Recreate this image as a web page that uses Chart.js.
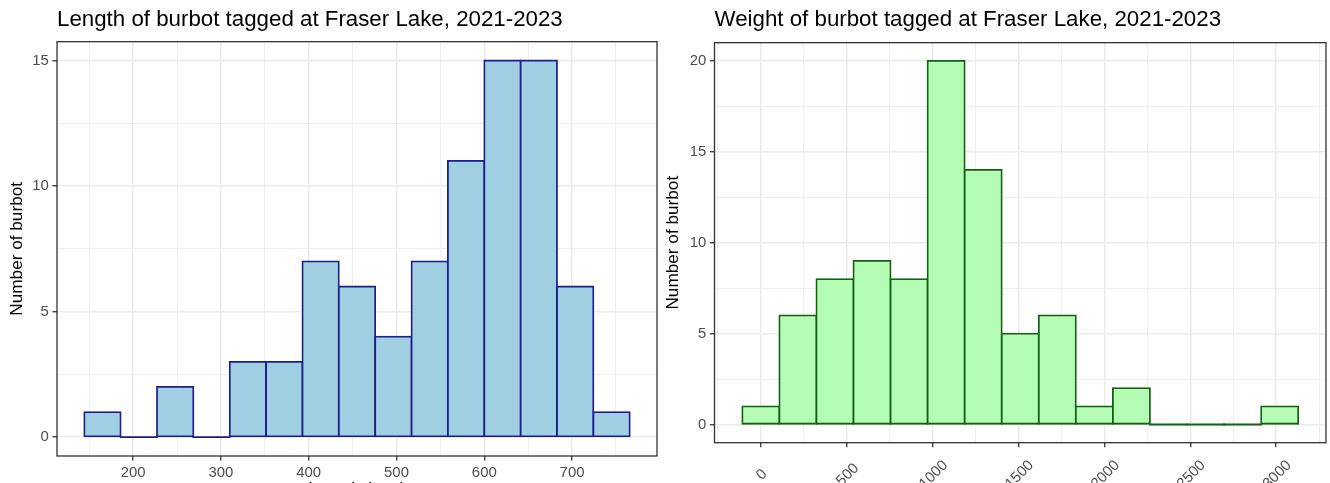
<!DOCTYPE html>
<html>
<head>
<meta charset="utf-8">
<title>Burbot tagged at Fraser Lake</title>
<script src="https://cdn.jsdelivr.net/npm/chart.js@4.4.1/dist/chart.umd.min.js"></script>
<style>
  html, body { margin: 0; padding: 0; background: #fff; width: 1330px; height: 483px; overflow: hidden; }
  .panel { position: absolute; top: 0; width: 665px; height: 500px; }
</style>
</head>
<body>
<div class="panel" style="left:0"><canvas id="length-chart" width="665" height="500"></canvas></div>
<div class="panel" style="left:665px"><canvas id="weight-chart" width="665" height="500"></canvas></div>
<script>
// counts per bin (15 bins each)
var lengthCounts = [1, 0, 2, 0, 3, 3, 7, 6, 4, 7, 11, 15, 15, 6, 1];
var weightCounts = [1, 6, 8, 9, 8, 20, 14, 5, 6, 1, 2, 0, 0, 0, 1];
// centre of first and last bin (smallest / largest fish)
var lengthRange = [165, 745];
var weightRange = [0, 3020];
// labelled ticks
var lengthTicks = [200, 300, 400, 500, 600, 700];
var weightTicks = [0, 500, 1000, 1500, 2000, 2500, 3000];
var lengthCountTicks = [0, 5, 10, 15];
var weightCountTicks = [0, 5, 10, 15, 20];

var FONT = "'Liberation Sans', Arial, Helvetica, sans-serif";
var BAR_LINE = 1.8;

// major ticks plus the minor ones half way between, kept inside the limits
function withMinor(majors, lo, hi) {
    var step = majors[1] - majors[0];
    var out = [];
    for (var v = majors[0] - step * 2; v <= majors[majors.length - 1] + step * 2; v += step / 2) {
        if (v >= lo && v <= hi) out.push(v);
    }
    return out;
}

// box round the panel, like theme_bw
var panelBorder = {
    id: 'panelBorder',
    afterDatasetsDraw: function(chart) {
        var a = chart.chartArea, ctx = chart.ctx;
        ctx.save();
        ctx.strokeStyle = '#333333';
        ctx.lineWidth = 1.3;
        ctx.strokeRect(a.left, a.top, a.right - a.left, a.bottom - a.top);
        ctx.restore();
    }
};

// empty bins still get their outline drawn flat on zero (ggplot does this)
var zeroBins = {
    id: 'zeroBins',
    afterDatasetsDraw: function(chart) {
        var meta = chart.getDatasetMeta(0), ctx = chart.ctx;
        var data = chart.data.datasets[0].data;
        ctx.save();
        ctx.strokeStyle = chart.data.datasets[0].borderColor;
        ctx.lineWidth = BAR_LINE;
        meta.data.forEach(function(bar, i) {
            if (data[i].y !== 0) return;
            var p = bar.getProps(['x', 'base', 'width'], true);
            ctx.beginPath();
            ctx.moveTo(p.x - p.width / 2 - BAR_LINE / 2, p.base);
            ctx.lineTo(p.x + p.width / 2 + BAR_LINE / 2, p.base);
            ctx.stroke();
        });
        ctx.restore();
    }
};

function histogram(canvasId, cfg) {
    var n = cfg.counts.length;
    var w = (cfg.range[1] - cfg.range[0]) / (n - 1);
    var points = cfg.counts.map(function(c, i) {
        return {x: cfg.range[0] + i * w, y: c};
    });
    var lo = cfg.range[0] - w / 2, hi = cfg.range[1] + w / 2;
    var xPad = (hi - lo) * 0.05;
    var yMax = Math.max.apply(null, cfg.counts);
    var yPad = yMax * 0.05;
    var xMin = lo - xPad, xMax = hi + xPad;
    var xGrid = withMinor(cfg.xTicks, xMin, xMax);
    var yGrid = withMinor(cfg.yTicks, -yPad, yMax + yPad);

    function isMajor(c, majors) {
        return c.tick ? majors.indexOf(c.tick.value) >= 0 : true;
    }

    function gridOpts(majors) {
        return {
            offset: false,
            drawTicks: true,
            tickLength: 4.6,
            tickWidth: 1.3,
            color: '#EBEBEB',
            lineWidth: function(c) { return isMajor(c, majors) ? 1.5 : 0.8; },
            tickColor: function(c) { return isMajor(c, majors) ? '#333333' : 'rgba(0,0,0,0)'; }
        };
    }

    // rotated x labels (only used on the weight panel)
    var rotatedTicks = {
        id: 'rotatedTicks',
        afterDraw: function(chart) {
            if (!cfg.rotate) return;
            var scale = chart.scales.x, ctx = chart.ctx;
            ctx.save();
            ctx.fillStyle = '#4D4D4D';
            ctx.font = '14.9px ' + FONT;
            ctx.textAlign = 'center';
            ctx.textBaseline = 'middle';
            cfg.xTicks.forEach(function(v) {
                ctx.save();
                ctx.translate(scale.getPixelForValue(v) + 1, chart.chartArea.bottom + 32);
                ctx.rotate(-Math.PI / 4);
                ctx.fillText(String(v), 0, 0);
                ctx.restore();
            });
            ctx.restore();
        }
    };

    return new Chart(document.getElementById(canvasId), {
        type: 'bar',
        data: {
            datasets: [{
                data: points,
                backgroundColor: cfg.fill,
                borderColor: cfg.line,
                borderWidth: BAR_LINE,
                borderSkipped: false,
                inflateAmount: BAR_LINE / 2,
                barPercentage: 1,
                categoryPercentage: 1
            }]
        },
        options: {
            responsive: false,
            animation: false,
            layout: {padding: {right: cfg.padRight}},
            plugins: {
                legend: {display: false},
                tooltip: {enabled: false},
                title: {
                    display: true,
                    text: cfg.title,
                    align: 'start',
                    fullSize: false,
                    color: '#000',
                    font: {family: FONT, size: 22.3, weight: 'normal'},
                    padding: {top: 6, bottom: cfg.titleBottom}
                }
            },
            scales: {
                x: {
                    type: 'linear',
                    offset: false,
                    min: xMin,
                    max: xMax,
                    afterBuildTicks: function(s) { s.ticks = xGrid.map(function(v) { return {value: v}; }); },
                    afterFit: function(s) { s.height = cfg.xHeight; },
                    border: {display: false},
                    grid: gridOpts(cfg.xTicks),
                    ticks: {
                        display: !cfg.rotate,
                        autoSkip: false,
                        maxRotation: 0,
                        padding: 3,
                        color: '#4D4D4D',
                        font: {family: FONT, size: 14.9},
                        callback: function(v) { return cfg.xTicks.indexOf(v) >= 0 ? String(v) : ''; }
                    },
                    title: {
                        display: true,
                        text: cfg.xTitle,
                        color: '#000',
                        font: {family: FONT, size: 17.2, lineHeight: 1},
                        padding: {top: 0, bottom: cfg.xTitlePad}
                    }
                },
                y: {
                    min: -yPad,
                    max: yMax + yPad,
                    afterBuildTicks: function(s) { s.ticks = yGrid.map(function(v) { return {value: v}; }); },
                    afterFit: function(s) { s.width = cfg.yWidth; },
                    border: {display: false},
                    grid: gridOpts(cfg.yTicks),
                    ticks: {
                        autoSkip: false,
                        padding: 3.7,
                        color: '#4D4D4D',
                        font: {family: FONT, size: 14.9},
                        callback: function(v) { return cfg.yTicks.indexOf(v) >= 0 ? String(v) : ''; }
                    },
                    title: {
                        display: true,
                        text: 'Number of burbot',
                        color: '#000',
                        font: {family: FONT, size: 17.2, lineHeight: 1},
                        padding: {top: cfg.yTitlePad, bottom: 0}
                    }
                }
            }
        },
        plugins: [zeroBins, panelBorder, rotatedTicks]
    });
}

histogram('length-chart', {
    counts: lengthCounts,
    range: lengthRange,
    xTicks: lengthTicks,
    yTicks: lengthCountTicks,
    title: 'Length of burbot tagged at Fraser Lake, 2021-2023',
    xTitle: 'Length (mm)',
    fill: '#A0CFE1',
    line: '#1C1C8C',
    padRight: 8,
    yWidth: 57,
    xHeight: 44,
    titleBottom: 8.9,
    xTitlePad: 2,
    yTitlePad: 8.4,
    rotate: false
});

histogram('weight-chart', {
    counts: weightCounts,
    range: weightRange,
    xTicks: weightTicks,
    yTicks: weightCountTicks,
    title: 'Weight of burbot tagged at Fraser Lake, 2021-2023',
    xTitle: 'Weight (g)',
    fill: '#B5FDB5',
    line: '#135F13',
    padRight: 4,
    yWidth: 49.5,
    xHeight: 57.3,
    titleBottom: 9.9,
    xTitlePad: 0,
    yTitlePad: 0,
    rotate: true
});
</script>
</body>
</html>
